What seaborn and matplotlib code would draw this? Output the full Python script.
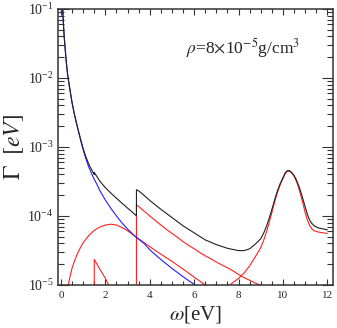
import matplotlib
matplotlib.use('Agg')
import matplotlib.pyplot as plt
import seaborn as sns
from matplotlib.ticker import MultipleLocator, LogLocator, NullFormatter

# curves (omega in eV, Gamma in eV)
w_blue = [0.05, 0.06, 0.08, 0.1, 0.12, 0.15, 0.18, 0.2, 0.25, 0.3, 0.35, 0.4, 0.45, 0.5,
          0.6, 0.7, 0.8, 0.9, 1.0, 1.1, 1.25, 1.4, 1.5, 1.6, 1.75, 2.0, 2.25, 2.5, 2.75,
          3.0, 3.2, 3.4, 3.75, 4.0, 4.5, 5.0, 5.5, 6.0, 6.25]
g_blue = [0.2, 0.15, 0.1, 0.071, 0.054, 0.038, 0.029, 0.024, 0.0158, 0.0112, 8.7e-3,
          6.9e-3, 5.5e-3, 4.37e-3, 3.02e-3, 2.19e-3, 1.62e-3, 1.2e-3, 9.1e-4, 7.1e-4,
          5.13e-4, 3.98e-4, 3.39e-4, 2.95e-4, 2.34e-4, 1.7e-4, 1.29e-4, 1.0e-4, 7.94e-5,
          6.46e-5, 5.6e-5, 4.9e-5, 3.98e-5, 3.24e-5, 2.34e-5, 1.74e-5, 1.32e-5, 1.02e-5,
          8.9e-6]

w_hump = [0.3, 0.33, 0.4, 0.5, 0.6, 0.75, 0.9, 1.0, 1.25, 1.5, 1.75, 2.0, 2.25, 2.5,
          2.75, 3.0, 3.2, 3.4, 3.75, 4.0, 4.5, 5.0, 5.5, 6.0, 6.5, 6.6]
g_hump = [8e-6, 1.0e-5, 1.3e-5, 1.75e-5, 2.2e-5, 2.9e-5, 3.6e-5, 4.1e-5, 5.2e-5, 6.2e-5,
          6.9e-5, 7.4e-5, 7.6e-5, 7.4e-5, 6.8e-5, 6.1e-5, 5.5e-5, 4.9e-5, 4.1e-5, 3.6e-5,
          2.8e-5, 2.2e-5, 1.7e-5, 1.3e-5, 1.0e-5, 9.5e-6]

w_tri = [1.5, 1.5, 1.75, 2.0, 2.15, 2.25]
g_tri = [5e-6, 2.35e-5, 1.7e-5, 1.25e-5, 1.0e-5, 8.8e-6]

w_edge = [3.4, 3.4, 3.5, 3.75, 4.0, 4.25, 4.5, 4.75, 5.0, 5.25, 5.5, 5.75, 6.0, 6.25,
          6.5, 6.75, 7.0, 7.25, 7.5, 7.75, 8.0, 8.25, 8.5, 8.75, 9.0, 9.1]
g_edge = [5e-6, 1.45e-4, 1.37e-4, 1.17e-4, 1.0e-4, 8.6e-5, 7.4e-5, 6.4e-5, 5.6e-5,
          4.9e-5, 4.25e-5, 3.75e-5, 3.35e-5, 2.95e-5, 2.65e-5, 2.4e-5, 2.15e-5, 1.95e-5,
          1.78e-5, 1.6e-5, 1.42e-5, 1.28e-5, 1.17e-5, 1.07e-5, 9.9e-6, 9.5e-6]

w_peak = [7.5, 7.6, 7.8, 8.0, 8.25, 8.5, 8.75, 9.0, 9.125, 9.25, 9.375, 9.5, 9.625,
          9.75, 9.875, 10.0, 10.1, 10.2, 10.3, 10.4, 10.5, 10.6, 10.7, 10.8, 10.9, 11.0,
          11.1, 11.2, 11.3, 11.4, 11.6, 11.8, 12.0]
g_peak = [9.5e-6, 1.0e-5, 1.12e-5, 1.25e-5, 1.5e-5, 1.9e-5, 2.55e-5, 3.5e-5, 4.4e-5,
          5.8e-5, 8.0e-5, 1.13e-4, 1.6e-4, 2.2e-4, 2.85e-4, 3.5e-4, 4.1e-4, 4.45e-4,
          4.45e-4, 4.15e-4, 3.75e-4, 3.2e-4, 2.6e-4, 2.0e-4, 1.5e-4, 1.12e-4, 8.7e-5,
          7.3e-5, 6.5e-5, 6.1e-5, 5.85e-5, 5.7e-5, 5.6e-5]

w_tot = [0.05, 0.06, 0.08, 0.1, 0.12, 0.15, 0.18, 0.2, 0.25, 0.3, 0.35, 0.4, 0.45, 0.5,
         0.6, 0.7, 0.8, 0.9, 1.0, 1.1, 1.25, 1.4, 1.5, 1.5, 1.6, 1.75, 2.0, 2.25, 2.5,
         2.75, 3.0, 3.2, 3.4, 3.4, 3.5, 3.75, 4.0, 4.5, 5.0, 5.5, 6.0, 6.5, 7.0, 7.5,
         8.0, 8.25, 8.5, 8.75, 9.0, 9.125, 9.25, 9.375, 9.5, 9.625, 9.75, 9.875, 10.0,
         10.1, 10.2, 10.3, 10.4, 10.5, 10.6, 10.7, 10.8, 10.9, 11.0, 11.1, 11.2, 11.3,
         11.4, 11.6, 11.8, 12.0]
g_tot = [0.2, 0.15, 0.1, 0.071, 0.054, 0.038, 0.029, 0.024, 0.0158, 0.0112, 8.7e-3,
         6.9e-3, 5.5e-3, 4.39e-3, 3.04e-3, 2.22e-3, 1.65e-3, 1.24e-3, 9.5e-4, 7.55e-4,
         5.65e-4, 4.55e-4, 4.0e-4, 4.25e-4, 3.81e-4, 3.2e-4, 2.57e-4, 2.14e-4, 1.81e-4,
         1.53e-4, 1.3e-4, 1.15e-4, 1.0e-4, 2.4e-4, 2.31e-4, 1.98e-4, 1.68e-4, 1.25e-4,
         9.5e-5, 7.2e-5, 5.7e-5, 4.5e-5, 3.85e-5, 3.4e-5, 3.15e-5, 3.15e-5, 3.35e-5,
         3.9e-5, 4.7e-5, 5.6e-5, 7.0e-5, 9.2e-5, 1.25e-4, 1.72e-4, 2.32e-4, 2.95e-4,
         3.6e-4, 4.2e-4, 4.55e-4, 4.5e-4, 4.25e-4, 3.85e-4, 3.35e-4, 2.8e-4, 2.25e-4,
         1.75e-4, 1.35e-4, 1.05e-4, 8.7e-5, 7.8e-5, 7.2e-5, 6.7e-5, 6.5e-5, 6.3e-5]

sns.set_style('ticks')
plt.rcParams['font.family'] = ['Liberation Serif', 'DejaVu Serif']
plt.rcParams['mathtext.fontset'] = 'stix'

fig, ax = plt.subplots(figsize=(3.37, 3.28), dpi=100)
fig.subplots_adjust(left=0.171, right=0.988, bottom=0.131, top=0.973)

lw = 0.8
for w, g in [(w_hump, g_hump), (w_tri, g_tri), (w_edge, g_edge), (w_peak, g_peak)]:
    sns.lineplot(x=w, y=g, color='#ff2020', lw=lw, estimator=None, sort=False, ax=ax)
sns.lineplot(x=w_blue, y=g_blue, color='#2020ff', lw=lw, estimator=None, sort=False, ax=ax)
sns.lineplot(x=w_tot, y=g_tot, color='#202020', lw=lw, estimator=None, sort=False, ax=ax)

ax.set_yscale('log')
ax.set_xlim(-0.15, 12.25)
ax.set_ylim(1e-5, 1e-1)
ax.xaxis.set_major_locator(MultipleLocator(2))
ax.xaxis.set_minor_locator(MultipleLocator(0.5))
ax.yaxis.set_minor_locator(LogLocator(base=10, subs=range(2, 10), numticks=20))
ax.yaxis.set_minor_formatter(NullFormatter())

ax.tick_params(which='both', direction='in', top=True, right=True, width=0.8, color='#333333')
ax.tick_params(axis='x', which='major', length=4.5, labelsize=8, pad=4)
ax.tick_params(axis='x', which='minor', length=3)
ax.tick_params(axis='y', which='major', length=8, labelsize=10, pad=3)
ax.tick_params(axis='y', which='minor', length=4.5)
for s in ax.spines.values():
    s.set_linewidth(1.1)
    s.set_color('#333333')

ax.set_xlabel(r'$\omega$[eV]', fontsize=15, labelpad=3)
ax.set_ylabel(r'$\Gamma\ \ [eV]$', fontsize=17, labelpad=1)
ax.text(0.465, 0.86, r'$\rho$=8$\times$10$^{-5}$g/cm$^3$', transform=ax.transAxes,
        fontsize=12.5, va='center', ha='left')

fig.savefig('out.png', dpi=100)
